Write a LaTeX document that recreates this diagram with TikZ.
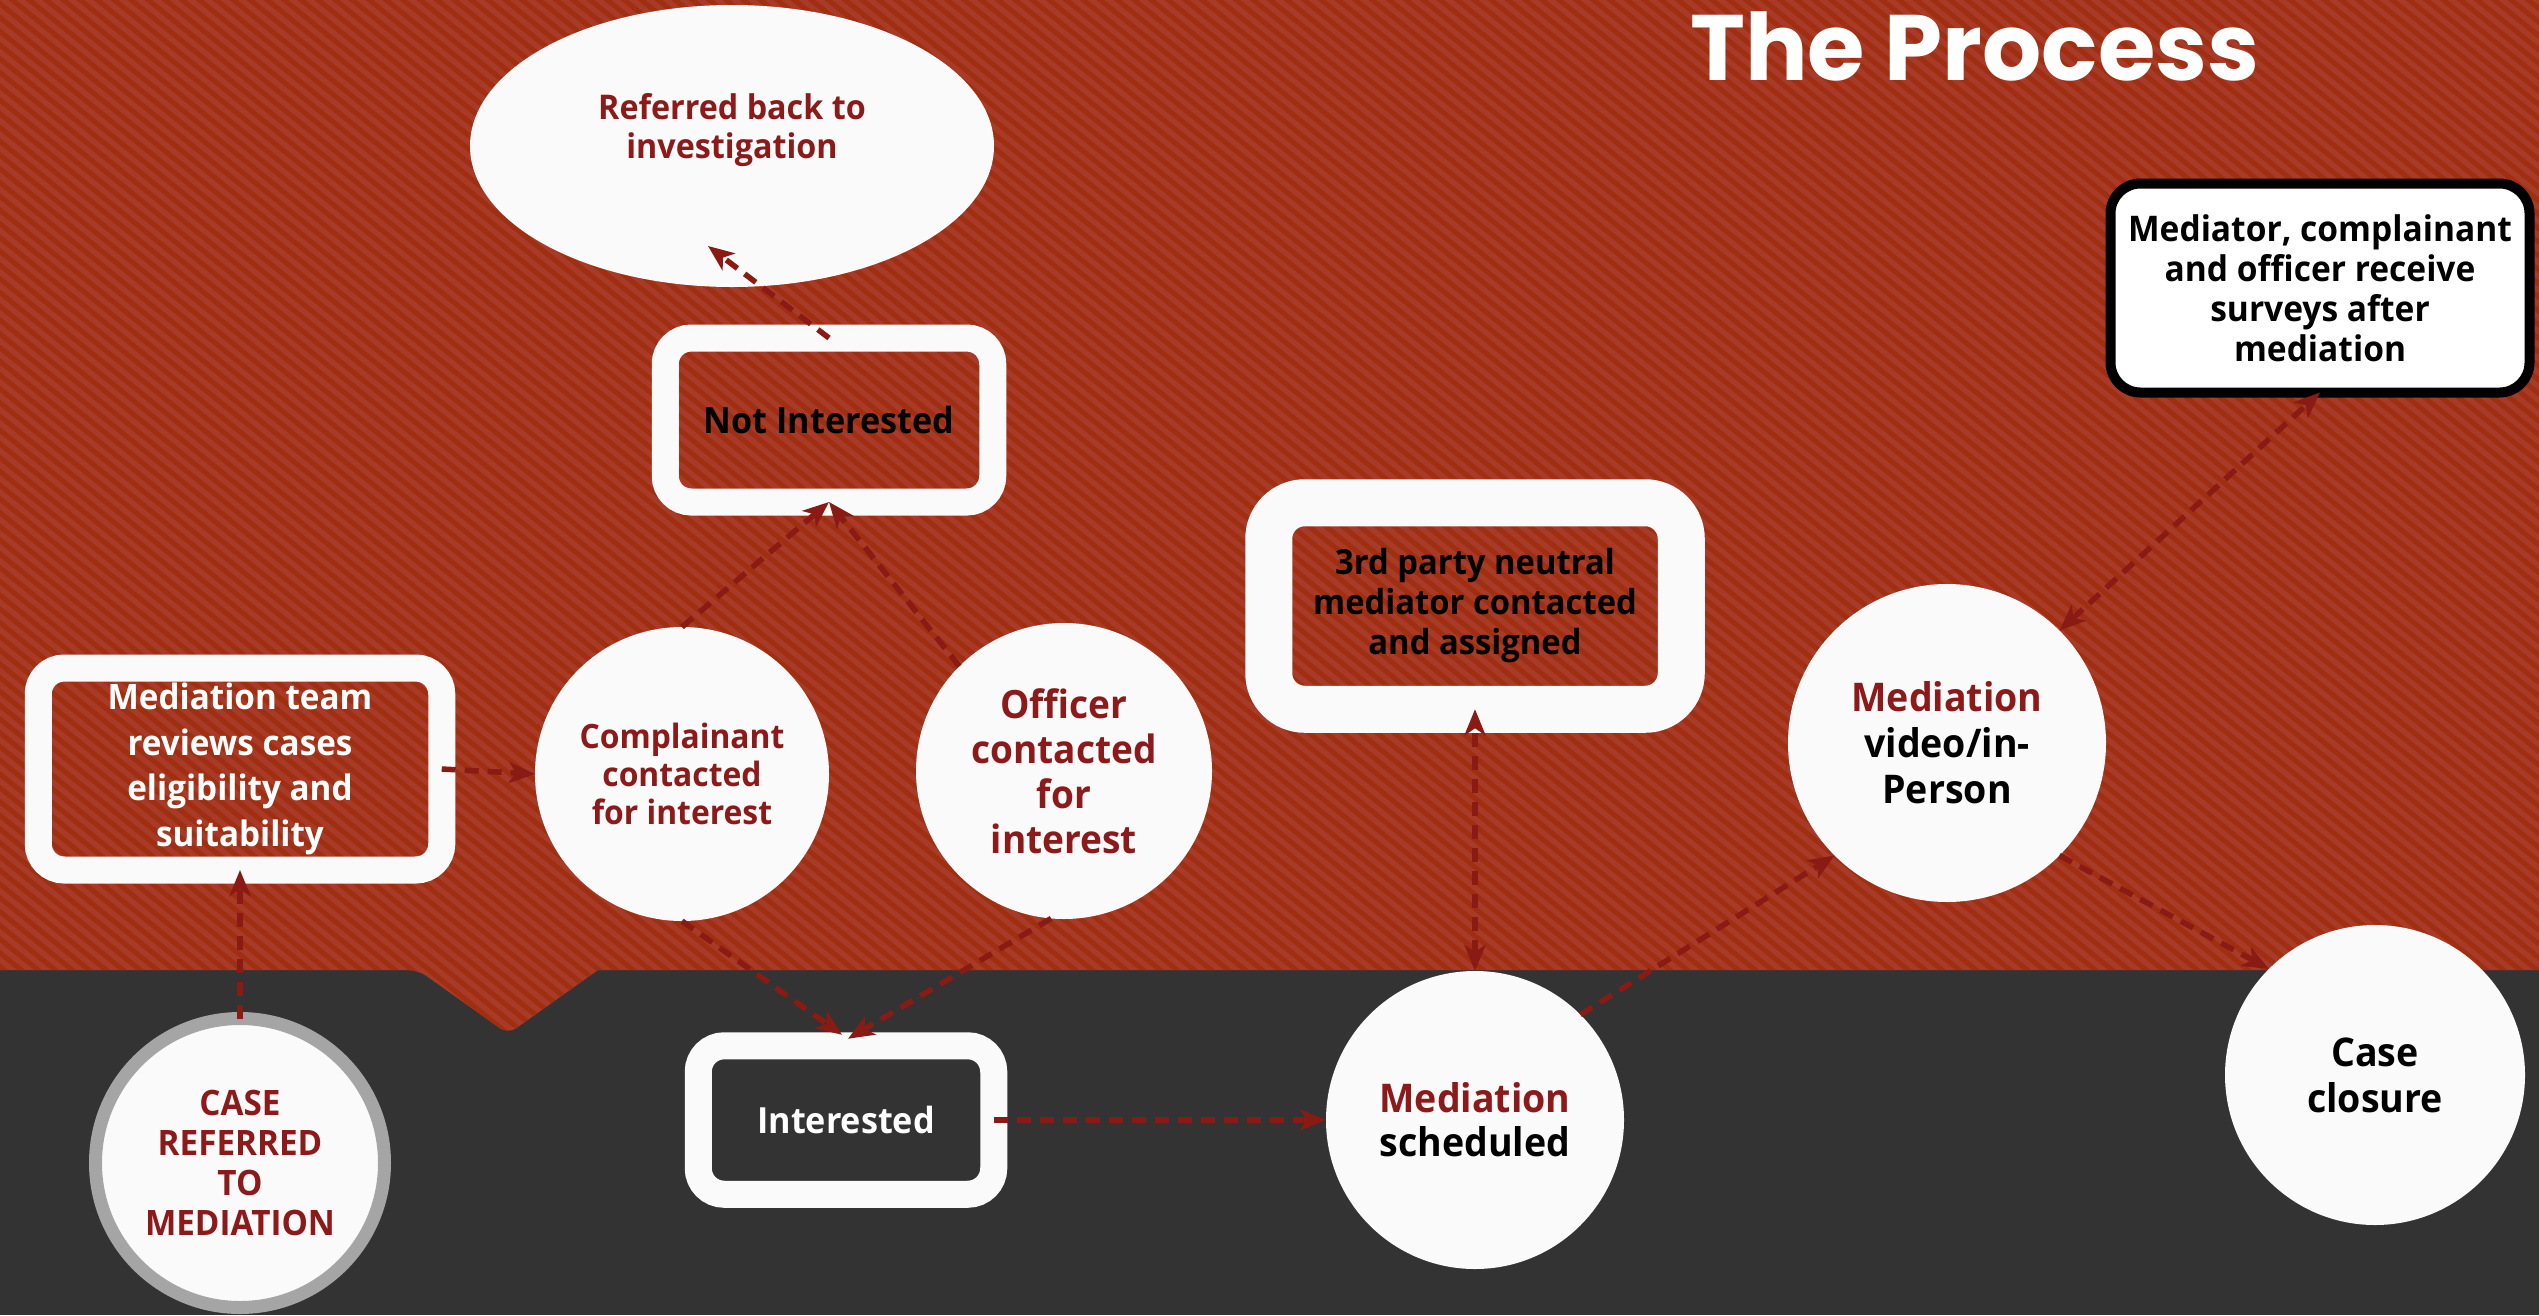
\documentclass[tikz,border=0pt]{standalone}
\usepackage{fontspec}
\usetikzlibrary{arrows.meta,shapes.geometric,calc}
\newfontfamily\bodyfont{Open Sans}[FakeStretch=0.95]
\newfontfamily\titlefont{Poppins}
\newcommand\txtsize[2]{\fontsize{#1}{#2}\selectfont}
\definecolor{offwhite}{HTML}{FAFAFA}
\definecolor{darkred}{HTML}{8C1A1A}
\definecolor{arrowred}{HTML}{8A1A14}
\definecolor{bggray}{HTML}{333333}
\definecolor{stripelight}{HTML}{A83A28}
\definecolor{stripedark}{HTML}{A02E10}
\definecolor{ringgray}{HTML}{A5A5A5}
\tikzset{
  ringbox/.style={draw=offwhite, line width=27pt, rounded corners=26pt,
    outer sep=0pt, inner sep=0pt, align=center},
  disc/.style={circle, fill=offwhite, draw=none, inner sep=0pt, outer sep=0pt,
    align=center},
  flow/.style={draw=arrowred, line width=5.5pt, dash pattern=on 14pt off 9pt,
    -{Stealth[length=26pt,width=21pt,inset=7pt]}},
  twoway/.style={draw=arrowred, line width=5.5pt, dash pattern=on 14pt off 9pt,
    {Stealth[length=26pt,width=21pt,inset=7pt]}-{Stealth[length=26pt,width=21pt,inset=7pt]}},
}
\begin{document}
\begin{tikzpicture}[x=1pt,y=-1pt]
\useasboundingbox (0,0) rectangle (2539,1315);
% dark lower band
\fill[bggray] (0,0) rectangle (2539,1315);
% striped upper band with its notch
\begin{scope}
  \clip (0,0) -- (2539,0) -- (2539,970) -- (598,970)
        [rounded corners=10pt] -- (508,1034) -- (418,970) [sharp corners]
        -- (0,970) -- cycle;
  \fill[stripelight] (0,0) rectangle (2539,1050);
  \foreach \i in {-80,...,152}
    \draw[stripedark, line width=5pt] (\i*17,-10) -- ++(1310,1060);
\end{scope}

% title
\node[anchor=base west, text=white, inner sep=0pt,
      font=\titlefont\bfseries\txtsize{93}{100}] (title) at (1690,80) {The Process};

% shapes
\node[ellipse, fill=offwhite, minimum width=524pt, minimum height=282pt,
      inner sep=0pt, outer sep=0pt] (ell) at (732,146) {};
\node[text=darkred, align=center, inner sep=0pt,
      font=\bodyfont\bfseries\txtsize{34}{39}] (reftxt) at (732,130)
      {Referred back to\\investigation};

\node[ringbox, minimum width=403.5pt, minimum height=202pt, text=white,
      font=\bodyfont\bfseries\txtsize{35}{45.5}] (team) at (240,769)
      {Mediation team\\reviews cases\\eligibility and\\suitability};

\node[ringbox, minimum width=327.5pt, minimum height=164pt, text=black,
      font=\bodyfont\bfseries\txtsize{36}{40}] (notint) at (829,420)
      {Not Interested};

\node[ringbox, line width=47pt, rounded corners=36pt, minimum width=412.5pt,
      minimum height=206.5pt, text=black,
      font=\bodyfont\bfseries\txtsize{34.5}{40}] (third) at (1475,606)
      {3rd party neutral\\mediator contacted\\and assigned};

\node[ringbox, minimum width=295.5pt, minimum height=148.5pt, text=white,
      font=\bodyfont\bfseries\txtsize{36}{40}] (inter) at (846,1120)
      {Interested};

\node[draw=black, fill=white, line width=10pt, rounded corners=30pt,
      minimum width=419pt, minimum height=209pt, inner sep=0pt, outer sep=0pt,
      align=center, text=black, font=\bodyfont\bfseries\txtsize{35.3}{40}]
      (survey) at (2320,288) {Mediator, complainant\\and officer receive\\surveys after\\mediation};

\node[disc, draw=ringgray, line width=13pt, minimum size=289pt, text=darkred,
      font=\bodyfont\bfseries\txtsize{35}{40}] (case) at (240,1163)
      {CASE\\REFERRED\\TO\\MEDIATION};

\node[disc, minimum size=294pt, text=darkred,
      font=\bodyfont\bfseries\txtsize{33.5}{38}] (compl) at (682,774)
      {Complainant\\contacted\\for interest};

\node[disc, minimum size=296pt, text=darkred,
      font=\bodyfont\bfseries\txtsize{39}{45}] (officer) at (1064,771)
      {Officer\\contacted\\for\\interest};

\node[disc, minimum size=298pt, text=black,
      font=\bodyfont\bfseries\txtsize{39.5}{44}] (sched) at (1475,1120)
      {{\color{darkred}Mediation}\\scheduled};

\node[disc, minimum size=318pt, text=black,
      font=\bodyfont\bfseries\txtsize{39.5}{46}] (video) at (1947,743)
      {{\color{darkred}Mediation}\\video/in-\\Person};

\node[disc, minimum size=300pt, text=black,
      font=\bodyfont\bfseries\txtsize{39.5}{46}] (closure) at (2375,1075)
      {Case\\closure};

% connectors
\draw[flow] (case.north) -- (team.south);
\draw[flow] (team.east) -- (compl.west);
\draw[flow] (compl.north) -- (notint.south);
\draw[flow] (officer.135) -- (notint.south);
\draw[flow] (notint.north) -- ($(ell.south)+(-24,-41)$);
\draw[flow] (compl.south) -- ($(inter.north)+(-4,-11)$);
\draw[flow] (officer.-95) -- ($(inter.north)+(2,-7)$);
\draw[flow] (inter.east) -- (sched.west);
\draw[twoway] (sched.north) -- (third.south);
\draw[flow] (sched.45) -- (video.225);
\draw[flow] (video.-45) -- (closure.135);
\draw[twoway] (video.45) -- (survey.south);
\end{tikzpicture}
\end{document}
